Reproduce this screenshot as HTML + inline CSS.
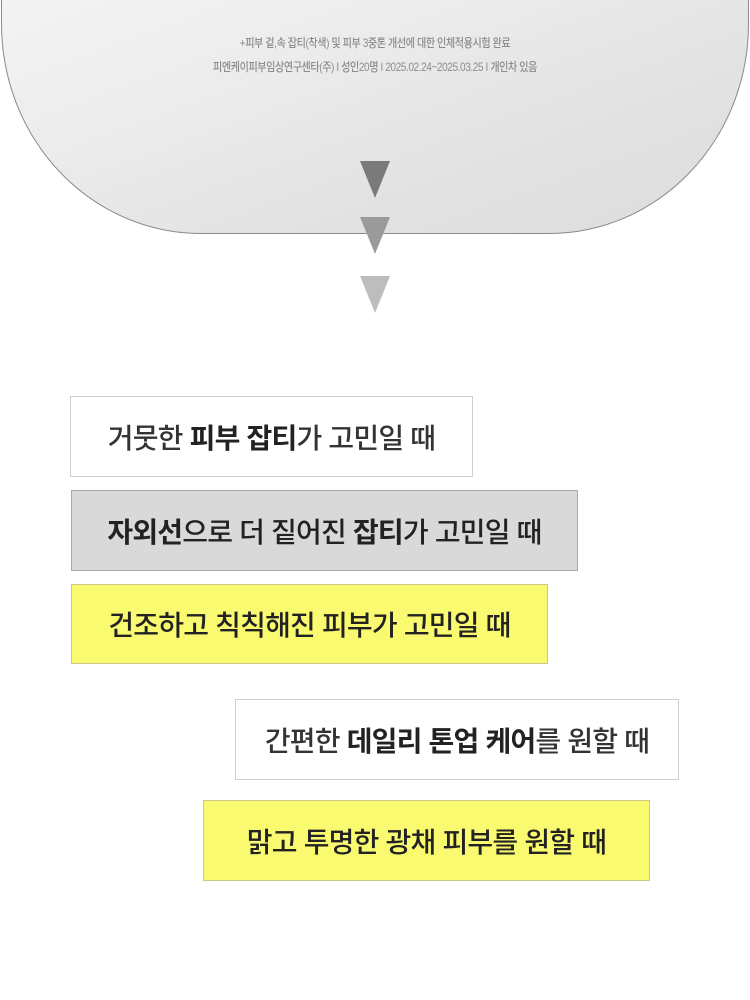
<!DOCTYPE html>
<html><head><meta charset="utf-8"><style>
html,body{margin:0;padding:0;background:#fff;}
body{width:750px;height:1000px;position:relative;overflow:hidden;font-family:"Liberation Sans","Noto Sans CJK KR",sans-serif;}
.panel{position:absolute;left:1px;top:-20px;width:748px;height:254px;border:1px solid #8a8a8a;border-top:none;border-radius:0 0 200px 200px/0 0 210px 210px;
background:linear-gradient(160deg,#f4f4f4 0%,#ececec 35%,#e2e2e2 70%,#dcdcdc 100%);box-sizing:border-box;}
.note{position:absolute;left:0;width:750px;text-align:center;color:#8c8c8c;font-size:12px;letter-spacing:-0.5px;font-weight:500;transform:scaleX(0.84);}
.tri{position:absolute;left:360px;width:0;height:0;border-left:15px solid transparent;border-right:15px solid transparent;border-top:37px solid #777;}
.box{position:absolute;box-sizing:border-box;border:1.5px solid #cfcfcf;display:flex;align-items:center;justify-content:center;font-size:28px;color:#333;letter-spacing:-0.8px;font-weight:500;}
.box b{font-weight:bold;color:#222;}
.y{background:#f9fa70;border-color:#c9c98a;color:#222;}
.g{background:#d9d9d9;border-color:#a9a9a9;color:#222;}
</style></head><body>
<div class="panel"></div>
<div class="note" style="top:34px">+피부 겉,속 잡티(착색) 및 피부 3중톤 개선에 대한 인체적용시험 완료</div>
<div class="note" style="top:58px">피엔케이피부임상연구센타(주) I 성인20명 I 2025.02.24~2025.03.25 I 개인차 있음</div>
<div class="tri" style="top:161px;border-top-color:#7a7a7a"></div>
<div class="tri" style="top:217px;border-top-color:#9a9a9a"></div>
<div class="tri" style="top:276px;border-top-color:#bdbdbd"></div>

<div class="box" style="left:70px;top:396px;width:403px;height:81px">거뭇한&nbsp;<b>피부 잡티</b>가 고민일 때</div>
<div class="box g" style="left:71px;top:490px;width:507px;height:81px"><b>자외선</b>으로 더 짙어진&nbsp;<b>잡티</b>가 고민일 때</div>
<div class="box y" style="left:71px;top:584px;width:477px;height:80px">건조하고 칙칙해진 피부가 고민일 때</div>
<div class="box" style="left:235px;top:699px;width:444px;height:81px">간편한&nbsp;<b>데일리 톤업 케어</b>를 원할 때</div>
<div class="box y" style="left:203px;top:800px;width:447px;height:81px">맑고 투명한 광채 피부를 원할 때</div>
</body></html>
